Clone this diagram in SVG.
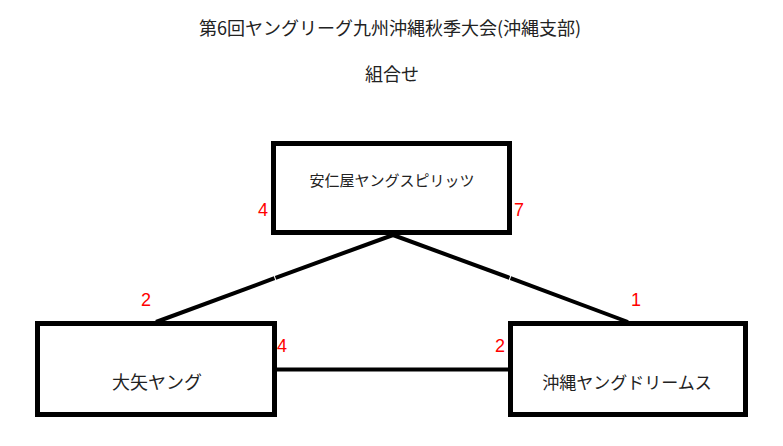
<svg xmlns="http://www.w3.org/2000/svg" width="783" height="446" viewBox="0 0 783 446">
<style>
.t{font-family:"Noto Sans CJK JP","Liberation Sans",sans-serif;fill:#222;text-anchor:middle}
.box{fill:#fff;stroke:#000;stroke-width:5}
.ln{stroke:#000;stroke-width:4;fill:none}
.n{font-family:"Liberation Sans","DejaVu Sans",sans-serif;font-size:18px;fill:#f00}
</style>
<rect width="783" height="446" fill="#fff"/>
<text class="t" x="390" y="35" font-size="18">第6回ヤングリーグ九州沖縄秋季大会(沖縄支部)</text>
<text class="t" x="392" y="81" font-size="18">組合せ</text>
<g id="connectors">
<line class="ln" x1="393" y1="235" x2="275.5" y2="277.8"/>
<line class="ln" x1="274.5" y1="278.2" x2="156" y2="322"/>
<line class="ln" x1="393" y1="235" x2="509.5" y2="277.8"/>
<line class="ln" x1="510.5" y1="278.2" x2="628" y2="322"/>
<line class="ln" x1="276" y1="369.5" x2="508" y2="369.5"/>
</g>
<g id="node-aniya">
<rect class="box" x="273.5" y="143.5" width="236" height="89"/>
<text class="t" x="392" y="186" font-size="15">安仁屋ヤングスピリッツ</text>
<text class="n" x="258" y="216">4</text>
<text class="n" x="514" y="216">7</text>
</g>
<g id="node-oya">
<rect class="box" x="37.5" y="323.5" width="237" height="91"/>
<text class="t" x="157" y="389" font-size="18">大矢ヤング</text>
<text class="n" x="141" y="306">2</text>
<text class="n" x="277" y="352">4</text>
</g>
<g id="node-okinawa">
<rect class="box" x="510.5" y="323.5" width="235" height="91"/>
<text class="t" x="627" y="389" font-size="17">沖縄ヤングドリームス</text>
<text class="n" x="631" y="306">1</text>
<text class="n" x="495" y="352">2</text>
</g>
</svg>
